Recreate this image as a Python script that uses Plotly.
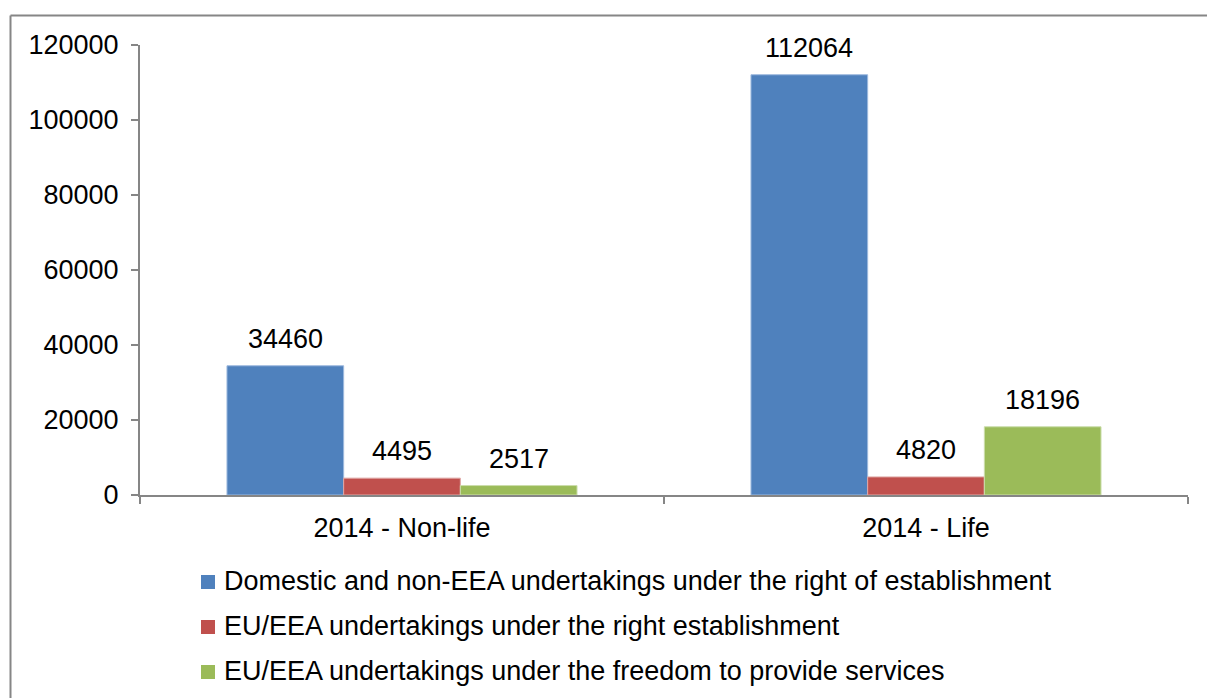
import plotly.graph_objects as go

# Categories and series
categories = ["2014 - Non-life", "2014 - Life"]
series_names = [
    "Domestic and non-EEA undertakings under the right of establishment",
    "EU/EEA undertakings under the right establishment",
    "EU/EEA undertakings under the freedom to provide services",
]
domestic = [34460, 112064]
eu_establishment = [4495, 4820]
eu_freedom = [2517, 18196]
y_ticks = [0, 20000, 40000, 60000, 80000, 100000, 120000]

colors = ["#4F81BD", "#C0504D", "#9BBB59"]
edge_colors = ["#9DB9DE", "#DFA8A6", "#CCDDAC"]
FONT = "Liberation Sans, Arial, sans-serif"
FS = 27
BARGAP = 0.332

all_series = [domestic, eu_establishment, eu_freedom]

# Page geometry (pixels)
L, R, T, B = 140, 19, 45, 203
W, H = 1207, 698
pw, ph = W - L - R, H - T - B


def px_x(p):
    return (p - L) / pw


def px_y(p):
    return ((H - B) - p) / ph


fig = go.Figure()
for i, (name, vals) in enumerate(zip(series_names, all_series)):
    fig.add_trace(go.Bar(
        x=categories, y=vals, name=name,
        marker=dict(color=colors[i], line=dict(color=edge_colors[i], width=1)),
        showlegend=False,
    ))

# Value labels above each bar
bar_w = (1 - BARGAP) / len(all_series)
annotations = []
for i, vals in enumerate(all_series):
    offset = (i - (len(all_series) - 1) / 2) * bar_w
    for c, v in enumerate(vals):
        annotations.append(dict(
            x=c + offset, y=v, xref="x", yref="y",
            text=str(v), showarrow=False, yanchor="bottom", yshift=10,
            font=dict(family=FONT, size=FS, color="#000000"),
        ))

# Outer frame: top and left edges (right and bottom run off the page)
frame = dict(color="#868686", width=2)
shapes = [
    dict(type="line", xref="paper", yref="paper", x0=px_x(10.5), x1=px_x(W + 20),
         y0=px_y(15.5), y1=px_y(15.5), line=frame),
    dict(type="line", xref="paper", yref="paper", x0=px_x(10.5), x1=px_x(10.5),
         y0=px_y(H + 20), y1=px_y(15.5), line=frame),
]

# Legend below the plot: colour squares with labels
row_centers = [582, 627, 672]
for i, name in enumerate(series_names):
    cy = row_centers[i]
    shapes.append(dict(
        type="rect", xref="paper", yref="paper",
        x0=px_x(201), x1=px_x(215), y0=px_y(cy + 7), y1=px_y(cy - 7),
        fillcolor=colors[i], line=dict(width=0),
    ))
    annotations.append(dict(
        x=px_x(222), y=px_y(cy - 1), xref="paper", yref="paper",
        xanchor="left", yanchor="middle", showarrow=False, text=name,
        font=dict(family=FONT, size=FS, color="#000000"),
    ))

fig.update_layout(
    width=W, height=H,
    margin=dict(l=L, r=R, t=T, b=B),
    paper_bgcolor="white", plot_bgcolor="white",
    barmode="group", bargap=BARGAP, bargroupgap=0,
    font=dict(family=FONT, size=FS, color="#000000"),
    showlegend=False,
    annotations=annotations,
    shapes=shapes,
)
fig.update_yaxes(
    range=[0, 120000], tickvals=y_ticks, ticktext=[str(t) for t in y_ticks],
    showgrid=False, zeroline=False,
    showline=True, linecolor="#868686", linewidth=2,
    ticks="outside", ticklen=7, tickcolor="#868686", tickwidth=2,
    ticklabelstandoff=7,
    tickfont=dict(family=FONT, size=FS, color="#000000"),
)
fig.update_xaxes(
    showgrid=False, showline=True, linecolor="#868686", linewidth=2,
    ticks="outside", tickson="boundaries", ticklen=7, tickcolor="#868686", tickwidth=2,
    tickfont=dict(family=FONT, size=FS, color="#000000"),
    ticklabelstandoff=8,
)

fig.write_html("out.html")
